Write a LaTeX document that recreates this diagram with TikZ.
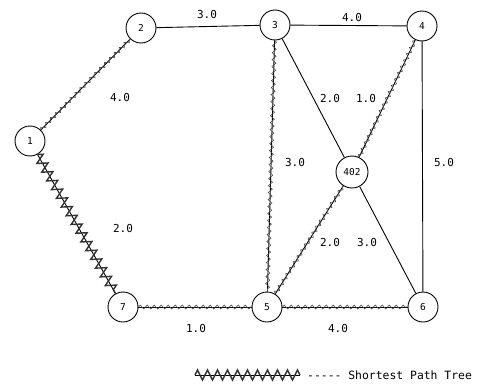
\documentclass[tikz,border=0pt]{standalone}
\usepackage{fontspec}
\setmainfont{DejaVu Sans Mono}
\setmonofont{DejaVu Sans Mono}
\usetikzlibrary{decorations.pathmorphing}
\begin{document}
\begin{tikzpicture}[x=1pt,y=-1pt,
  vertex/.style={circle,draw,line width=0.9pt,minimum size=30pt,inner sep=0pt,font=\fontsize{9.5}{10}\selectfont},
  plain/.style={draw,line width=0.9pt},
  tree/.style={draw,line width=0.9pt,postaction={decorate,draw,line width=0.6pt,black!70,
     decoration={zigzag,amplitude=2pt,segment length=7pt}}},
  heavytree/.style={draw,line width=0.9pt,postaction={decorate,draw,line width=1.4pt,black!80,
     decoration={zigzag,amplitude=5pt,segment length=10pt}}},
  lab/.style={font=\fontsize{11}{12}\selectfont,inner sep=1pt}]
\useasboundingbox (0,0) rectangle (477,391);
\node[vertex] (n1) at (30,141) {1};
\node[vertex] (n2) at (141,28) {2};
\node[vertex] (n3) at (275,25) {3};
\node[vertex] (n4) at (422,26) {4};
\node[vertex,minimum size=32pt] (n402) at (352,172) {402};
\node[vertex] (n5) at (267,307) {5};
\node[vertex] (n6) at (423,307) {6};
\node[vertex] (n7) at (123,307) {7};
% plain edges
\path[plain] (n2) -- (n3);
\path[plain] (n3) -- (n4);
\path[plain] (n3) -- (n402);
\path[plain] (n402) -- (n6);
\path[plain] (n4) -- (n6);
% tree edges
\path[tree] (n1) -- (n2);
\path[tree] (n3) -- (n5);
\path[tree] (n402) -- (n4);
\path[tree] (n5) -- (n402);
\path[tree] (n5) -- (n6);
\path[tree] (n7) -- (n5);
\path[heavytree] (n1) -- (n7);
% labels
\node[lab] (l23) at (207,14) {3.0};
\node[lab] (l34) at (352,17) {4.0};
\node[lab] (l12) at (120,97) {4.0};
\node[lab] (l3402) at (330,98) {2.0};
\node[lab] (l4402) at (366,98) {1.0};
\node[lab] (l35) at (295,162) {3.0};
\node[lab] (l46) at (444,162) {5.0};
\node[lab] (l17) at (123,228) {2.0};
\node[lab] (l5402) at (330,242) {2.0};
\node[lab] (l6402) at (367,242) {3.0};
\node[lab] (l75) at (196,328) {1.0};
\node[lab] (l56) at (338,328) {4.0};
% legend
\coordinate (la) at (195,375);
\coordinate (lb) at (300,375);
\path[heavytree] (la) -- (lb);
\node[lab,anchor=west,font=\fontsize{11.4}{12}\selectfont] (legend) at (306,375) {{-}{-}{-}{-}{-} Shortest Path Tree};
\end{tikzpicture}
\end{document}
